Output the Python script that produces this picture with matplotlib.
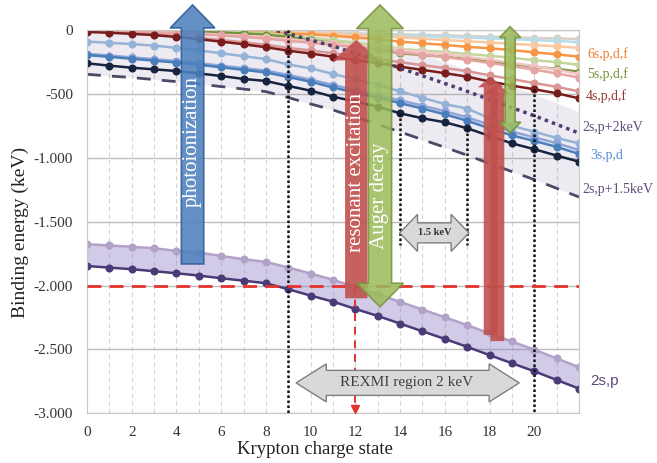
import numpy as np
import matplotlib.pyplot as plt
from matplotlib.patches import Polygon
from matplotlib.ticker import MultipleLocator, FuncFormatter

plt.rcParams['font.family'] = ['Liberation Serif', 'DejaVu Serif']

charge = np.arange(0, 23)

# binding energies (eV, plotted as "keV" in the original)
sp2_low = [-1847, -1860, -1872, -1888, -1904, -1922, -1943, -1962, -1982, -2029, -2079, -2126,
           -2183, -2238, -2298, -2358, -2418, -2480, -2545, -2608, -2671, -2739, -2807]
sp2_up = [-1677, -1686, -1697, -1708, -1729, -1742, -1768, -1794, -1815, -1859, -1906, -1955,
          -2012, -2068, -2128, -2188, -2248, -2310, -2375, -2438, -2502, -2570, -2640]

s3 = [-261, -279, -295, -308, -321, -340, -360, -383, -399, -438, -475, -522,
      -560, -600, -652, -691, -722, -769, -829, -887, -933, -983, -1030]
p3 = [-196, -210, -225, -240, -255, -272, -292, -312, -332, -368, -405, -450,
      -490, -530, -572, -615, -660, -710, -770, -825, -868, -915, -970]
p3b = [-186, -200, -214, -228, -243, -260, -279, -298, -318, -352, -388, -430,
       -470, -510, -550, -592, -636, -684, -742, -796, -840, -886, -940]
d3 = [-91, -100, -110, -122, -140, -160, -182, -205, -228, -270, -300, -344,
      -385, -430, -480, -530, -580, -615, -690, -750, -796, -845, -887]

s4 = [-15, -22, -30, -40, -55, -72, -91, -112, -135, -162, -184, -209,
      -235, -260, -287, -312, -338, -365, -403, -435, -464, -495, -535]
p4 = [-12, -18, -25, -34, -46, -61, -78, -96, -116, -140, -160, -182,
      -205, -228, -252, -275, -298, -322, -355, -385, -415, -445, -480]
d4 = [-6, -9, -13, -18, -25, -33, -43, -54, -67, -84, -100, -117,
      -135, -154, -174, -193, -213, -234, -258, -283, -310, -340, -372]
f4 = [-4, -7, -10, -14, -20, -27, -36, -46, -57, -72, -87, -102,
      -118, -136, -154, -171, -190, -210, -232, -256, -282, -312, -345]

s5 = [-3, -4, -6, -8, -11, -15, -20, -27, -36, -55, -80, -100,
      -120, -150, -182, -196, -209, -228, -245, -264, -287, -305, -326]
p5 = [-2, -3, -4, -6, -8, -11, -14, -19, -26, -42, -62, -80,
      -98, -122, -148, -160, -172, -188, -202, -218, -236, -252, -272]

s6 = [-3, -4, -5, -7, -9, -11, -14, -17, -21, -27, -34, -45,
      -58, -72, -91, -104, -117, -132, -143, -157, -175, -190, -209]
p6 = [-2, -3, -4, -5, -6, -8, -10, -12, -15, -19, -24, -30,
      -38, -47, -58, -68, -78, -88, -98, -108, -118, -128, -140]
hi1 = [-2, -3, -4, -5, -6, -8, -10, -12, -14, -17, -20, -23,
       -26, -30, -34, -38, -42, -47, -52, -57, -62, -66, -70]
hi2 = [-3, -4, -5, -6, -8, -10, -12, -14, -17, -21, -25, -29,
       -33, -38, -43, -48, -53, -59, -65, -72, -79, -86, -95]

sp2_low = np.array(sp2_low)
sp2_up = np.array(sp2_up)

fig = plt.figure(figsize=(6.57, 4.63), dpi=100)
ax = fig.add_axes([87/657, 1-413.3/463, 492/657, 383.3/463])
ax.set_xlim(0, 22)
ax.set_ylim(-3000, 0)

# grid
ax.set_xticks(range(0, 21, 2))
ax.xaxis.set_minor_locator(MultipleLocator(1))
ax.grid(which='both', axis='x', color='#d4d4d4', ls='--', lw=0.8, dashes=(4, 3))
ax.set_yticks(range(-3000, 1, 500))
ax.grid(which='major', axis='y', color='#bdbdbd', lw=1.0)
ax.set_axisbelow(True)
for s in ax.spines.values():
    s.set_color('#c8c8c8')
    s.set_linewidth(0.8)
ax.tick_params(which='both', length=0, labelsize=11, colors='#333333')
ax.tick_params(axis='y', pad=10)
ax.tick_params(axis='x', pad=9)
ax.yaxis.set_major_formatter(FuncFormatter(lambda v, p: f'{int(v):,}'.replace(',', '.')))

# REXMI window: 2s,p shifted by 1.5 keV and 2 keV
ax.fill_between(charge, sp2_up + 2000, sp2_low + 1500, color='#8064a2', alpha=0.13, lw=0, zorder=1)
ax.fill_between(charge, sp2_up, sp2_low, color='#8a78c0', alpha=0.38, lw=0, zorder=1)

mk = dict(marker='o', ms=4.8, lw=1.8, zorder=2)
ax.plot(charge, hi1, color='#d9d0c8', **mk)
ax.plot(charge, hi2, color='#b7dde8', **mk)
ax.plot(charge, p6, color='#fac8a0', **mk)
ax.plot(charge, s6, color='#f79646', **mk)
ax.plot(charge, p5, color='#c3d69b', **mk)
ax.plot(charge, s5, color='#77933c', **mk)
ax.plot(charge, f4, color='#f2c6c4', **mk)
ax.plot(charge, d4, color='#e6a5a3', **mk)
ax.plot(charge, p4, color='#d99694', **mk)
ax.plot(charge, s4, color='#7a1c1c', **mk)
ax.plot(charge, d3, color='#95b3d7', **mk)
ax.plot(charge, p3b, color='#8ea5d8', **mk)
ax.plot(charge, p3, color='#4a7ebb', **mk)
ax.plot(charge, s3, color='#17243f', **mk)
ax.plot(charge, sp2_up, color='#b3a2c7', **mk)
ax.plot(charge, sp2_low, color='#4b3a78', **mk)
ax.plot(charge, sp2_low + 2000, color='#4b3f70', lw=2.5, ls=(0, (1, 1.2)), zorder=2)
ax.plot(charge, sp2_low + 1500, color='#4a4a66', lw=2, ls=(0, (5, 4)), zorder=2)

# black dotted guides
dot = dict(color='#111111', lw=1.8, ls=(0, (1, 1)), zorder=3)
ax.plot([9, 9], [0, -3000], **dot)
ax.plot([20, 20], [s4[20], -3000], **dot)
ax.plot([14, 14], [s3[14], -1682], **dot)
ax.plot([17, 17], [s3[17], -1682], **dot)

# red 2 keV line
ax.axhline(-2000, color='#e5322d', lw=2, ls=(0, (5, 3)), zorder=4)
ax.plot([12, 12], [-2000, -2950], color='#e5322d', lw=1.4, ls=(0, (4, 3)), zorder=4)
ax.plot(12, -2965, marker='v', ms=6, color='#e5322d', zorder=4, clip_on=False)


def v_arrow(x, y0, y1, w, hw, hl, fc, ec, alpha, both=False):
    d = 1 if y1 > y0 else -1
    b0 = y0 + d * hl if both else y0
    pts = [(x - w/2, b0), (x - w/2, y1 - d*hl), (x - hw/2, y1 - d*hl), (x, y1),
           (x + hw/2, y1 - d*hl), (x + w/2, y1 - d*hl), (x + w/2, b0)]
    if both:
        pts += [(x + hw/2, b0), (x, y0), (x - hw/2, b0)]
    ax.add_patch(Polygon(pts, closed=True, fc=fc, ec=ec, lw=1.2, alpha=alpha,
                         zorder=5, clip_on=False))


def h_arrow(x0, x1, y, h, hh, hl):
    pts = [(x0, y), (x0 + hl, y + hh/2), (x0 + hl, y + h/2), (x1 - hl, y + h/2),
           (x1 - hl, y + hh/2), (x1, y), (x1 - hl, y - hh/2), (x1 - hl, y - h/2),
           (x0 + hl, y - h/2), (x0 + hl, y - hh/2)]
    ax.add_patch(Polygon(pts, closed=True, fc='#d9d9d9', ec='#7f7f7f', lw=1.0, zorder=5))


v_arrow(4.72, -1831, 196, 1.0, 2.0, 180, '#4f81bd', '#2c5d99', 0.88)
v_arrow(12.04, -2100, -78, 1.0, 2.1, 160, '#c0504d', 'none', 0.9)
v_arrow(13.1, -2167, 196, 1.04, 2.1, 185, '#9bbb59', '#76923c', 0.85, both=True)
v_arrow(18.05, -2387, -368, 0.62, 1.15, 80, '#c0504d', 'none', 0.9)
v_arrow(18.35, -2435, -420, 0.62, 1.15, 80, '#c0504d', 'none', 0.9)
v_arrow(18.92, -806, 26, 0.45, 0.95, 85, '#9bbb59', '#76923c', 0.85, both=True)
h_arrow(13.98, 17.08, -1588, 156, 290, 0.8)
h_arrow(9.35, 19.33, -2762, 196, 298, 1.35)

tk = dict(ha='center', va='center', rotation=90, color='white', fontsize=15, zorder=6)
ax.text(4.72, -869, 'photoionization', **tk)
ax.text(12.04, -1119, 'resonant excitation', **tk)
ax.text(13.1, -1300, 'Auger decay', **tk)
ax.text(15.53, -1588, '1.5 keV', ha='center', va='center', fontsize=7.5, fontweight='bold',
        color='#333333', zorder=6)
ax.text(14.3, -2762, 'REXMI region 2 keV', ha='center', va='center', fontsize=11,
        color='#404040', zorder=6)

# right hand labels
lab = dict(fontsize=10, va='center', ha='left', clip_on=False)
ax.text(22.38, -188, '6s,p,d,f', color='#f07d33', **lab)
ax.text(22.38, -344, '5s,p,d,f', color='#77933c', **lab)
ax.text(22.3, -516, '4s,p,d,f', color='#953735', **lab)
ax.text(22.16, -767, '2s,p+2keV', color='#5f497a', **lab)
ax.text(22.5, -986, '3s,p,d', color='#558ed5', **lab)
ax.text(22.16, -1252, '2s,p+1.5keV', color='#5f497a', **lab)
ax.text(22.5, -2746, '2s,p', color='#5f497a', fontsize=11, va='center', ha='left',
        family='Liberation Sans', clip_on=False)

fig.text(20/657, 1 - 232/463, 'Binding energy (keV)', rotation=90, ha='center', va='center',
         fontsize=14, color='#222222')
fig.text(315/657, 1 - 449/463, 'Krypton charge state', ha='center', va='center',
         fontsize=13.5, color='#222222')

fig.savefig('out.png', dpi=100)
